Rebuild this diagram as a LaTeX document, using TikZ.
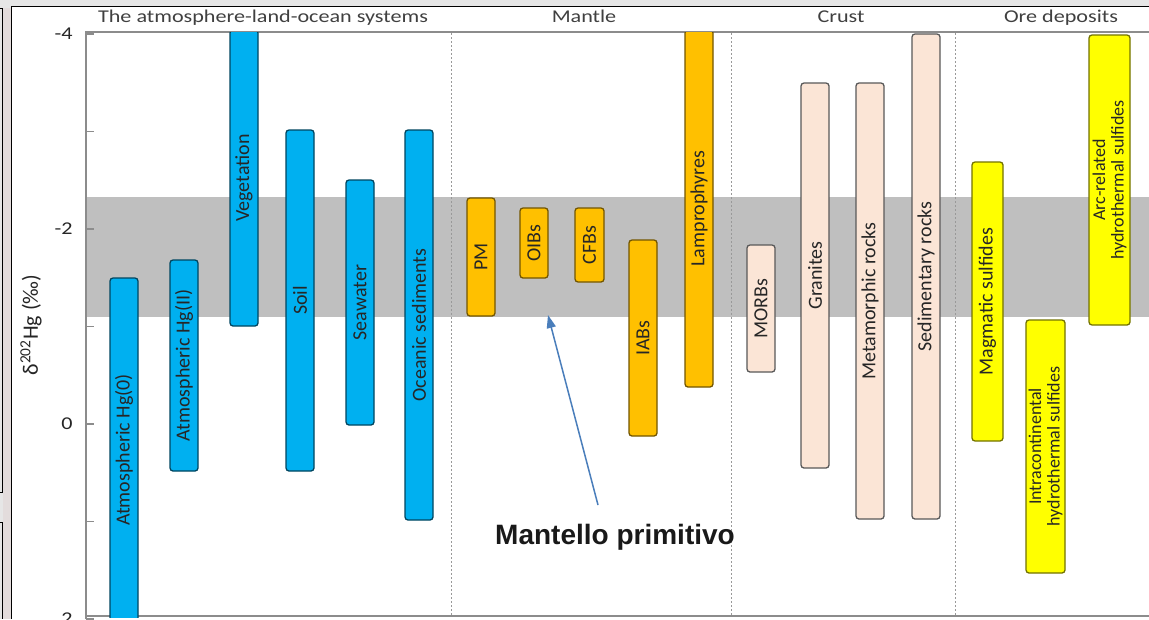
\documentclass[tikz,border=0pt]{standalone}
\usepackage{fontspec}
\setmainfont{Carlito}
\newfontfamily\calloutfont{Liberation Sans}
\usetikzlibrary{arrows.meta}

\definecolor{atmblue}{HTML}{00B0F0}
\definecolor{mantleorange}{HTML}{FFC000}
\definecolor{crustpeach}{HTML}{FBE5D6}
\definecolor{oreyellow}{HTML}{FFFF00}
\definecolor{bandgray}{HTML}{BFBFBF}
\definecolor{axisgray}{HTML}{8C8C8C}
\definecolor{screengray}{HTML}{E6E6E6}
\definecolor{stripgray}{HTML}{E3DCDC}
\definecolor{arrowblue}{HTML}{4A7EBB}

% one bar: name, x left, x right, y top, y bottom, style, label
\newcommand{\hgbar}[7]{%
  \node[#6, minimum width={#5-#4}, minimum height={#3-#2}] (#1)
    at ({(#2+#3)/2},{(#4+#5)/2}) {#7};}

\begin{document}
\begin{tikzpicture}[x=1pt,y=-1pt,
    bar/.style={draw, rounded corners=3pt, line width=1.3pt, rotate=90,
      inner sep=0pt, align=center, text=black!85,
      font=\fontsize{20}{20}\selectfont},
    blue bar/.style={bar, fill=atmblue, draw=atmblue!40!black},
    mantle bar/.style={bar, fill=mantleorange, draw=mantleorange!45!black},
    crust bar/.style={bar, fill=crustpeach, draw=black!65},
    ore bar/.style={bar, fill=oreyellow, draw=oreyellow!45!black},
    two lines/.style={font=\fontsize{18}{18.5}\selectfont},
    head/.style={anchor=base, text=black!75, xscale=1.23,
      font=\fontsize{18}{18}\selectfont},
    ticklabel/.style={anchor=east, text=black!85, xscale=1.23,
      font=\fontsize{18}{18}\selectfont},
    axis/.style={draw=axisgray, line width=1.4pt},
    sep/.style={draw=black!40, line width=0.9pt, dash pattern=on 2pt off 2pt},
    callout/.style={-{Triangle[length=13pt,width=9pt]}, draw=arrowblue,
      fill=arrowblue, line width=1.5pt}]

  \useasboundingbox (0,0) rectangle (1149,619);

  % screen frame round the chart
  \fill[screengray] (0,0) rectangle (1149,619);
  \fill[stripgray] (3,8) rectangle (11.5,619);
  \fill[white] (11.5,6.5) rectangle (1149,619);
  \draw[line width=1.2pt] (11.5,619) -- (11.5,6.5) -- (1149,6.5);
  \draw[line width=1pt] (0,8) -- (2.7,8) -- (2.7,492) -- (0,492);
  \draw[line width=1pt] (0,522) -- (2.7,522) -- (2.7,619);

  % band of the mantle values
  \fill[bandgray] (86,197) rectangle (1149,317);

  % group separators
  \foreach \sx in {451,731,955}
    \draw[sep] (\sx,33) -- (\sx,616);

  % axes
  \draw[axis] (86,619) -- (86,32) -- (1149,32);
  \draw[axis] (86,616) -- (1149,616);
  \foreach \v in {-4,...,2}
    \draw[axis] (86,{424+97.5*\v}) -- ++(8,0);
  \foreach \v/\t in {-4/-4,-2/-2,0/0,2/2}
    \node[ticklabel] (tick\v) at (77,{424+97.5*\v}) {\t};
  \node[rotate=90, text=black!85, font=\fontsize{22}{22}\selectfont]
    (ylabel) at (31,325) {δ\textsuperscript{202}Hg (‰)};

  % group headings
  \node[head] (hsys) at (263,22) {The atmosphere-land-ocean systems};
  \node[head] (hmantle) at (584,22) {Mantle};
  \node[head] (hcrust) at (841,22) {Crust};
  \node[head] (hore) at (1061,22) {Ore deposits};

  % bars
  \begin{scope}
    \clip (86,32) rectangle (1149,617);
    \hgbar{atmzero}{110}{138}{278}{622}{blue bar}{Atmospheric Hg(0)}
    \hgbar{atmtwo}{170}{198}{260}{471}{blue bar}{Atmospheric Hg(II)}
    \hgbar{veg}{230}{258}{30}{326}{blue bar}{Vegetation}
    \hgbar{soil}{286}{314}{130}{471}{blue bar}{Soil}
    \hgbar{sea}{346}{374}{180}{425}{blue bar}{Seawater}
    \hgbar{ocean}{405}{433}{130}{520}{blue bar}{Oceanic sediments}
    \hgbar{pm}{467}{495}{198}{316}{mantle bar}{PM}
    \hgbar{oib}{520}{548}{208}{278}{mantle bar}{OIBs}
    \hgbar{cfb}{575}{604}{208}{282}{mantle bar}{CFBs}
    \hgbar{iab}{629}{657}{240}{436}{mantle bar}{IABs}
    \hgbar{lamp}{685}{713}{30}{387}{mantle bar}{Lamprophyres}
    \hgbar{morb}{747}{775}{245}{372}{crust bar}{MORBs}
    \hgbar{gran}{801}{829}{83}{468}{crust bar}{Granites}
    \hgbar{meta}{856}{884}{83}{519}{crust bar}{Metamorphic rocks}
    \hgbar{sedi}{912}{940}{34}{519}{crust bar}{Sedimentary rocks}
    \hgbar{magm}{972}{1003}{162}{441}{ore bar}{Magmatic sulfides}
    \hgbar{intra}{1026}{1065}{320}{573}{ore bar, two lines}{Intracontinental\\hydrothermal sulfides}
    \hgbar{arc}{1089}{1130}{35}{325}{ore bar, two lines}{Arc-related\\hydrothermal sulfides}
  \end{scope}

  % primitive mantle callout
  \node[anchor=base, text=black!90, font=\calloutfont\bfseries\fontsize{28}{28}\selectfont]
    (mantello) at (615,544) {Mantello primitivo};
  \coordinate (tail) at (598,505);
  \coordinate (bandpt) at (548,315);
  \draw[callout] (tail) -- (bandpt);

\end{tikzpicture}
\end{document}
